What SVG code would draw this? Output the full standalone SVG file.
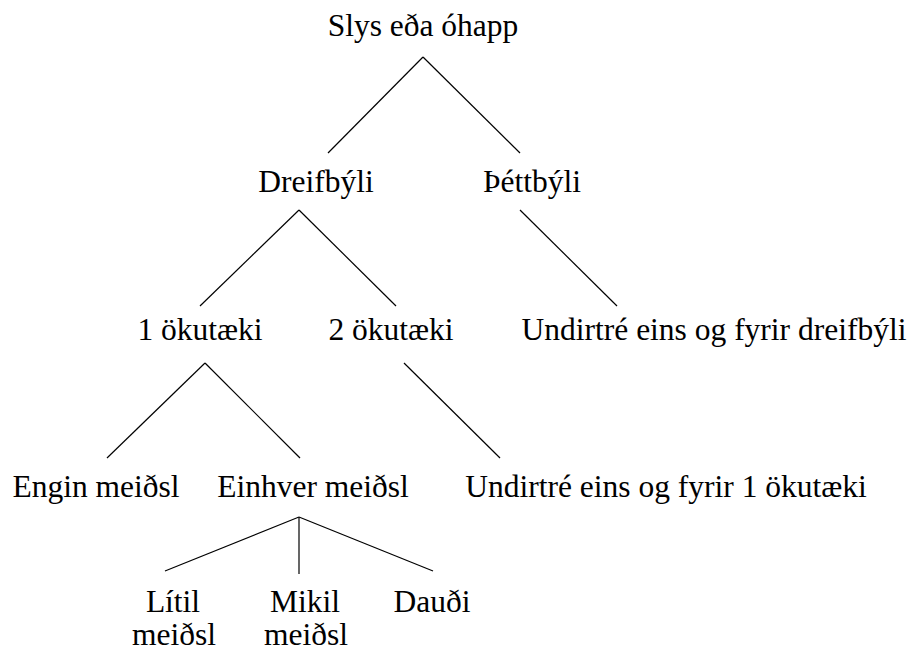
<svg xmlns="http://www.w3.org/2000/svg" width="912" height="652" viewBox="0 0 912 652">
<style>
text{font-family:'Liberation Serif','Tinos','Times New Roman','DejaVu Serif',serif;font-size:31.5px;fill:#000;text-anchor:middle}
.c line{stroke:#000;stroke-width:1.2;fill:none}
</style>
<rect width="912" height="652" fill="#fff"/>
<g class="c" id="connectors">
<line x1="423" y1="57" x2="328" y2="153"/>
<line x1="423" y1="57" x2="520" y2="153"/>
<line x1="299" y1="210" x2="200" y2="306"/>
<line x1="299" y1="210" x2="396" y2="306"/>
<line x1="520" y1="210" x2="617" y2="306"/>
<line x1="205" y1="363" x2="107" y2="458"/>
<line x1="205" y1="363" x2="300" y2="458"/>
<line x1="404" y1="363" x2="500" y2="458"/>
<line x1="299" y1="517" x2="165" y2="571"/>
<line x1="299" y1="517" x2="299" y2="574"/>
<line x1="299" y1="517" x2="433" y2="571"/>
</g>
<g id="n-root"><text x="423" y="36" font-family="Liberation Serif">Slys eða óhapp</text></g>
<g id="n-dreif"><text x="316" y="192">Dreifbýli</text></g>
<g id="n-thett"><text x="532" y="192">Þéttbýli</text></g>
<g id="n-1ok"><text x="200" y="340">1 ökutæki</text></g>
<g id="n-2ok"><text x="391" y="340">2 ökutæki</text></g>
<g id="n-sub1"><text x="714" y="340">Undirtré eins og fyrir dreifbýli</text></g>
<g id="n-engin"><text x="96" y="497">Engin meiðsl</text></g>
<g id="n-einhver"><text x="313" y="497">Einhver meiðsl</text></g>
<g id="n-sub2"><text x="666" y="497">Undirtré eins og fyrir 1 ökutæki</text></g>
<g id="n-litil"><text x="173" y="612">Lítil</text><text x="174" y="645">meiðsl</text></g>
<g id="n-mikil"><text x="305" y="612">Mikil</text><text x="306" y="645">meiðsl</text></g>
<g id="n-daudi"><text x="432" y="612">Dauði</text></g>
</svg>
